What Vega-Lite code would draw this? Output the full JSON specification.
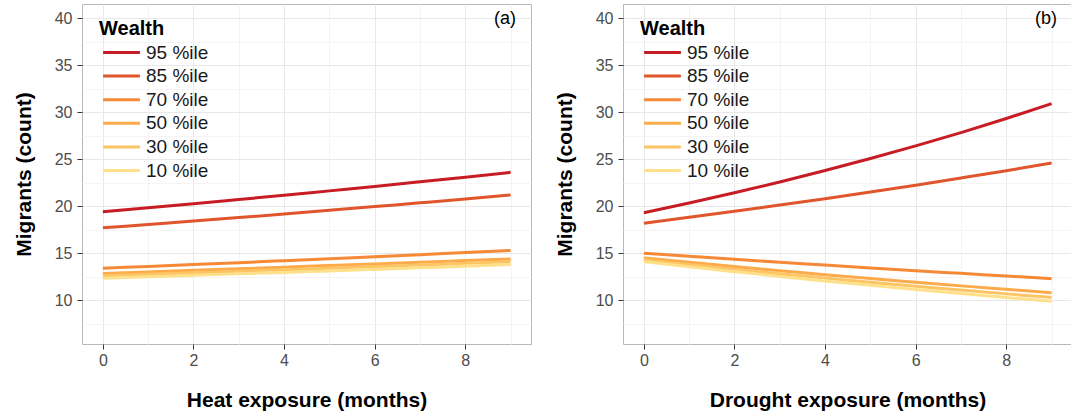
{
  "$schema": "https://vega.github.io/schema/vega-lite/v6.json",
  "padding": {"left": 12, "top": 3, "right": 0, "bottom": 0},
  "spacing": 21,
  "config": {
    "font": "Liberation Sans",
    "view": {"stroke": "#b8b8b8", "strokeWidth": 1},
    "title": {"fontSize": 18, "fontWeight": "normal", "color": "#000000", "anchor": "end", "orient": "top", "offset": -24, "dx": -15},
    "axis": {
      "domain": false,
      "grid": true,
      "tickColor": "#333333",
      "tickSize": 5,
      "labelFontSize": 16,
      "labelColor": "#4d4d4d",
      "labelPadding": 3,
      "labelOverlap": false,
      "labelFlush": false,
      "titleFontSize": 21,
      "titleFontWeight": "bold",
      "titleColor": "#000000"
    },
    "legend": {
      "orient": "none",
      "legendX": 17,
      "legendY": 15,
      "titleFontSize": 20,
      "titleFontWeight": "bold",
      "titleColor": "#000000",
      "titlePadding": 4,
      "labelFontSize": 19,
      "labelColor": "#1a1a1a",
      "symbolType": "M-2.3,0H2.3",
      "symbolStrokeWidth": 3,
      "symbolSize": 256,
      "symbolOffset": 13,
      "labelOffset": 15,
      "rowPadding": 3.6
    }
  },
  "datasets": {
    "heat": [
      {"w": "95 %ile", "x": 0, "y": 19.4}, {"w": "95 %ile", "x": 1, "y": 19.83}, {"w": "95 %ile", "x": 2, "y": 20.26}, {"w": "95 %ile", "x": 3, "y": 20.71}, {"w": "95 %ile", "x": 4, "y": 21.16}, {"w": "95 %ile", "x": 5, "y": 21.63}, {"w": "95 %ile", "x": 6, "y": 22.1}, {"w": "95 %ile", "x": 7, "y": 22.59}, {"w": "95 %ile", "x": 8, "y": 23.09}, {"w": "95 %ile", "x": 9, "y": 23.6},
      {"w": "85 %ile", "x": 0, "y": 17.7}, {"w": "85 %ile", "x": 1, "y": 18.06}, {"w": "85 %ile", "x": 2, "y": 18.42}, {"w": "85 %ile", "x": 3, "y": 18.79}, {"w": "85 %ile", "x": 4, "y": 19.17}, {"w": "85 %ile", "x": 5, "y": 19.56}, {"w": "85 %ile", "x": 6, "y": 19.96}, {"w": "85 %ile", "x": 7, "y": 20.36}, {"w": "85 %ile", "x": 8, "y": 20.77}, {"w": "85 %ile", "x": 9, "y": 21.2},
      {"w": "70 %ile", "x": 0, "y": 13.4}, {"w": "70 %ile", "x": 1, "y": 13.6}, {"w": "70 %ile", "x": 2, "y": 13.8}, {"w": "70 %ile", "x": 3, "y": 14.0}, {"w": "70 %ile", "x": 4, "y": 14.21}, {"w": "70 %ile", "x": 5, "y": 14.42}, {"w": "70 %ile", "x": 6, "y": 14.63}, {"w": "70 %ile", "x": 7, "y": 14.85}, {"w": "70 %ile", "x": 8, "y": 15.07}, {"w": "70 %ile", "x": 9, "y": 15.3},
      {"w": "50 %ile", "x": 0, "y": 12.85}, {"w": "50 %ile", "x": 1, "y": 13.01}, {"w": "50 %ile", "x": 2, "y": 13.18}, {"w": "50 %ile", "x": 3, "y": 13.35}, {"w": "50 %ile", "x": 4, "y": 13.52}, {"w": "50 %ile", "x": 5, "y": 13.69}, {"w": "50 %ile", "x": 6, "y": 13.86}, {"w": "50 %ile", "x": 7, "y": 14.04}, {"w": "50 %ile", "x": 8, "y": 14.22}, {"w": "50 %ile", "x": 9, "y": 14.4},
      {"w": "30 %ile", "x": 0, "y": 12.6}, {"w": "30 %ile", "x": 1, "y": 12.76}, {"w": "30 %ile", "x": 2, "y": 12.92}, {"w": "30 %ile", "x": 3, "y": 13.08}, {"w": "30 %ile", "x": 4, "y": 13.25}, {"w": "30 %ile", "x": 5, "y": 13.41}, {"w": "30 %ile", "x": 6, "y": 13.58}, {"w": "30 %ile", "x": 7, "y": 13.75}, {"w": "30 %ile", "x": 8, "y": 13.93}, {"w": "30 %ile", "x": 9, "y": 14.1},
      {"w": "10 %ile", "x": 0, "y": 12.35}, {"w": "10 %ile", "x": 1, "y": 12.5}, {"w": "10 %ile", "x": 2, "y": 12.65}, {"w": "10 %ile", "x": 3, "y": 12.81}, {"w": "10 %ile", "x": 4, "y": 12.96}, {"w": "10 %ile", "x": 5, "y": 13.12}, {"w": "10 %ile", "x": 6, "y": 13.28}, {"w": "10 %ile", "x": 7, "y": 13.45}, {"w": "10 %ile", "x": 8, "y": 13.62}, {"w": "10 %ile", "x": 9, "y": 13.8}
    ],
    "drought": [
      {"w": "95 %ile", "x": 0, "y": 19.3}, {"w": "95 %ile", "x": 1, "y": 20.34}, {"w": "95 %ile", "x": 2, "y": 21.43}, {"w": "95 %ile", "x": 3, "y": 22.58}, {"w": "95 %ile", "x": 4, "y": 23.79}, {"w": "95 %ile", "x": 5, "y": 25.07}, {"w": "95 %ile", "x": 6, "y": 26.41}, {"w": "95 %ile", "x": 7, "y": 27.83}, {"w": "95 %ile", "x": 8, "y": 29.33}, {"w": "95 %ile", "x": 9, "y": 30.9},
      {"w": "85 %ile", "x": 0, "y": 18.2}, {"w": "85 %ile", "x": 1, "y": 18.82}, {"w": "85 %ile", "x": 2, "y": 19.46}, {"w": "85 %ile", "x": 3, "y": 20.12}, {"w": "85 %ile", "x": 4, "y": 20.8}, {"w": "85 %ile", "x": 5, "y": 21.51}, {"w": "85 %ile", "x": 6, "y": 22.24}, {"w": "85 %ile", "x": 7, "y": 23.0}, {"w": "85 %ile", "x": 8, "y": 23.78}, {"w": "85 %ile", "x": 9, "y": 24.6},
      {"w": "70 %ile", "x": 0, "y": 15.0}, {"w": "70 %ile", "x": 1, "y": 14.67}, {"w": "70 %ile", "x": 2, "y": 14.35}, {"w": "70 %ile", "x": 3, "y": 14.04}, {"w": "70 %ile", "x": 4, "y": 13.74}, {"w": "70 %ile", "x": 5, "y": 13.44}, {"w": "70 %ile", "x": 6, "y": 13.14}, {"w": "70 %ile", "x": 7, "y": 12.86}, {"w": "70 %ile", "x": 8, "y": 12.58}, {"w": "70 %ile", "x": 9, "y": 12.3},
      {"w": "50 %ile", "x": 0, "y": 14.5}, {"w": "50 %ile", "x": 1, "y": 14.03}, {"w": "50 %ile", "x": 2, "y": 13.58}, {"w": "50 %ile", "x": 3, "y": 13.15}, {"w": "50 %ile", "x": 4, "y": 12.72}, {"w": "50 %ile", "x": 5, "y": 12.31}, {"w": "50 %ile", "x": 6, "y": 11.92}, {"w": "50 %ile", "x": 7, "y": 11.53}, {"w": "50 %ile", "x": 8, "y": 11.16}, {"w": "50 %ile", "x": 9, "y": 10.8},
      {"w": "30 %ile", "x": 0, "y": 14.3}, {"w": "30 %ile", "x": 1, "y": 13.79}, {"w": "30 %ile", "x": 2, "y": 13.29}, {"w": "30 %ile", "x": 3, "y": 12.82}, {"w": "30 %ile", "x": 4, "y": 12.36}, {"w": "30 %ile", "x": 5, "y": 11.92}, {"w": "30 %ile", "x": 6, "y": 11.49}, {"w": "30 %ile", "x": 7, "y": 11.08}, {"w": "30 %ile", "x": 8, "y": 10.68}, {"w": "30 %ile", "x": 9, "y": 10.3},
      {"w": "10 %ile", "x": 0, "y": 14.1}, {"w": "10 %ile", "x": 1, "y": 13.56}, {"w": "10 %ile", "x": 2, "y": 13.04}, {"w": "10 %ile", "x": 3, "y": 12.53}, {"w": "10 %ile", "x": 4, "y": 12.05}, {"w": "10 %ile", "x": 5, "y": 11.59}, {"w": "10 %ile", "x": 6, "y": 11.14}, {"w": "10 %ile", "x": 7, "y": 10.71}, {"w": "10 %ile", "x": 8, "y": 10.3}, {"w": "10 %ile", "x": 9, "y": 9.9}
    ]
  },
  "resolve": {"scale": {"color": "independent"}, "legend": {"color": "independent"}},
  "hconcat": [
    {
      "width": 449,
      "height": 340,
      "title": "(a)",
      "data": {"name": "heat"},
      "mark": {"type": "line", "strokeWidth": 3, "interpolate": "monotone"},
      "encoding": {
        "x": {"field": "x", "type": "quantitative", "title": "Heat exposure (months)",
          "scale": {"domain": [-0.46, 9.45], "nice": false, "zero": false},
          "axis": {"values": [0, 1, 2, 3, 4, 5, 6, 7, 8, 9], "labelExpr": "datum.value % 2 === 0 ? datum.label : ''", "titlePadding": 21,
            "tickOpacity": {"condition": {"test": "datum.value % 2 !== 0", "value": 0}, "value": 1},
            "gridColor": {"condition": {"test": "datum.value % 2 !== 0", "value": "#f4f4f4"}, "value": "#e8e8e8"}}},
        "y": {"field": "y", "type": "quantitative", "title": "Migrants (count)",
          "scale": {"domain": [5.35, 41.5], "nice": false, "zero": false},
          "axis": {"values": [7.5, 10, 12.5, 15, 17.5, 20, 22.5, 25, 27.5, 30, 32.5, 35, 37.5, 40], "labelExpr": "datum.value % 5 === 0 ? datum.label : ''", "titlePadding": 20, "labelPadding": 5,
            "tickOpacity": {"condition": {"test": "datum.value % 5 !== 0", "value": 0}, "value": 1},
            "gridColor": {"condition": {"test": "datum.value % 5 !== 0", "value": "#f4f4f4"}, "value": "#e8e8e8"}}},
        "color": {"field": "w", "type": "nominal", "title": "Wealth",
          "scale": {"domain": ["95 %ile", "85 %ile", "70 %ile", "50 %ile", "30 %ile", "10 %ile"],
            "range": ["#c81c24", "#e0552b", "#f68936", "#fdaa4a", "#fdc463", "#ffe08a"]}}
      }
    },
    {
      "width": 449,
      "height": 340,
      "title": "(b)",
      "data": {"name": "drought"},
      "mark": {"type": "line", "strokeWidth": 3, "interpolate": "monotone"},
      "encoding": {
        "x": {"field": "x", "type": "quantitative", "title": "Drought exposure (months)",
          "scale": {"domain": [-0.46, 9.45], "nice": false, "zero": false},
          "axis": {"values": [0, 1, 2, 3, 4, 5, 6, 7, 8, 9], "labelExpr": "datum.value % 2 === 0 ? datum.label : ''", "titlePadding": 21,
            "tickOpacity": {"condition": {"test": "datum.value % 2 !== 0", "value": 0}, "value": 1},
            "gridColor": {"condition": {"test": "datum.value % 2 !== 0", "value": "#f4f4f4"}, "value": "#e8e8e8"}}},
        "y": {"field": "y", "type": "quantitative", "title": "Migrants (count)",
          "scale": {"domain": [5.35, 41.5], "nice": false, "zero": false},
          "axis": {"values": [7.5, 10, 12.5, 15, 17.5, 20, 22.5, 25, 27.5, 30, 32.5, 35, 37.5, 40], "labelExpr": "datum.value % 5 === 0 ? datum.label : ''", "titlePadding": 20, "labelPadding": 5,
            "tickOpacity": {"condition": {"test": "datum.value % 5 !== 0", "value": 0}, "value": 1},
            "gridColor": {"condition": {"test": "datum.value % 5 !== 0", "value": "#f4f4f4"}, "value": "#e8e8e8"}}},
        "color": {"field": "w", "type": "nominal", "title": "Wealth",
          "scale": {"domain": ["95 %ile", "85 %ile", "70 %ile", "50 %ile", "30 %ile", "10 %ile"],
            "range": ["#c81c24", "#e0552b", "#f68936", "#fdaa4a", "#fdc463", "#ffe08a"]}}
      }
    }
  ]
}
